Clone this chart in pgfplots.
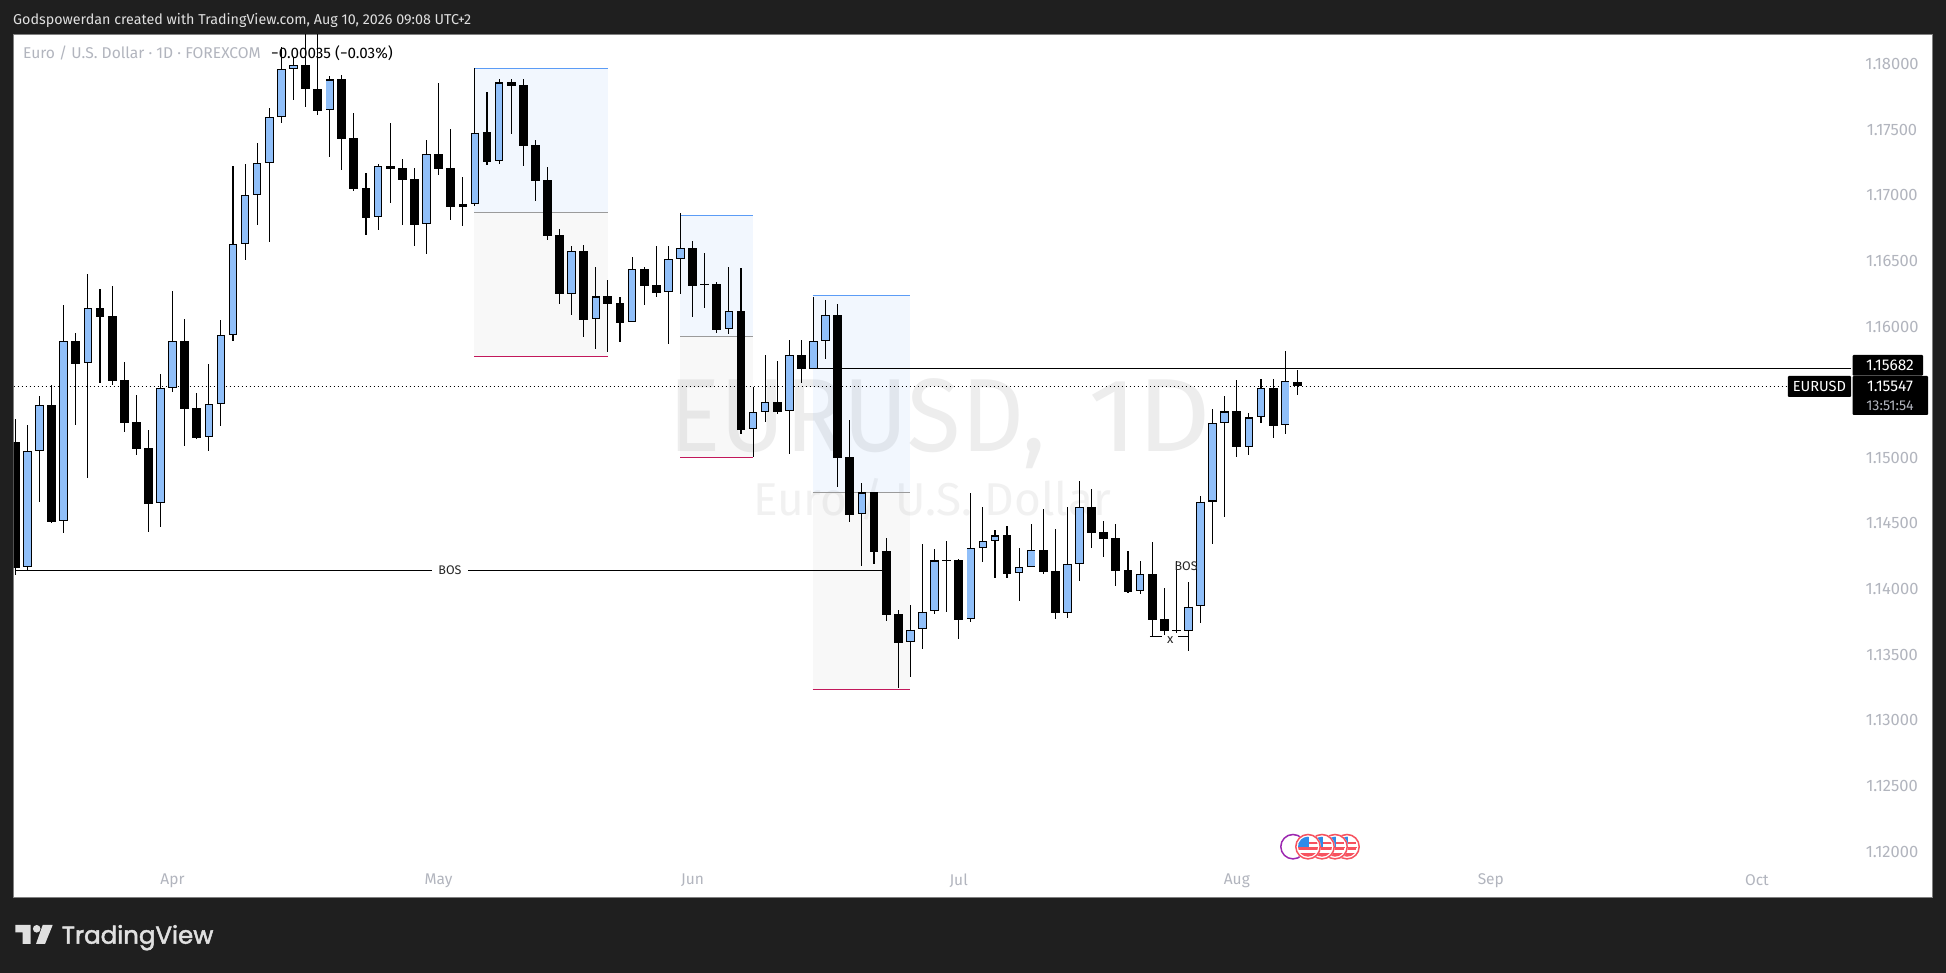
\documentclass[border=0pt]{standalone}
\usepackage{fontspec}
\setmainfont{Fira Sans}
\newfontfamily\logofont[FakeBold=2]{Poppins}
\usepackage{pgfplots}
\usepackage{pgfplotstable}
\pgfplotsset{compat=1.18}

\definecolor{frame}{HTML}{1F1F1F}
\definecolor{upfill}{HTML}{90BFF9}
\definecolor{axistext}{HTML}{B2B5BE}
\definecolor{zoneblue}{HTML}{5B9CF6}
\definecolor{zonegray}{HTML}{9B9B9B}
\definecolor{zonepink}{HTML}{C2185B}
\definecolor{wmark}{HTML}{EDEDED}
\definecolor{wmarkb}{HTML}{F1F1F1}
\definecolor{flagred}{HTML}{F7525F}
\definecolor{flagblue}{HTML}{2E8BEA}
\definecolor{evpurple}{HTML}{9C27B0}

% x = bar number, weekdays only
\pgfplotstableread{
x o h l c
1 1.14166 1.15250 1.14146 1.15050
2 1.15050 1.15471 1.14666 1.15400
4 1.14517 1.16164 1.14429 1.15888
6 1.15720 1.16401 1.14848 1.16139
12 1.14653 1.15639 1.14475 1.15530
13 1.15530 1.16271 1.15504 1.15888
16 1.15156 1.15715 1.15055 1.15408
17 1.15408 1.16050 1.15245 1.15934
18 1.15934 1.17223 1.15892 1.16627
19 1.16627 1.17238 1.16507 1.17000
20 1.17000 1.17396 1.16774 1.17244
21 1.17244 1.17665 1.16646 1.17594
22 1.17594 1.18129 1.17553 1.17960
23 1.17960 1.18053 1.17728 1.17990
26 1.17647 1.17909 1.17294 1.17883
30 1.16832 1.17238 1.16738 1.17221
34 1.16779 1.17421 1.16555 1.17312
37 1.16913 1.17139 1.16768 1.16931
38 1.16931 1.17967 1.16920 1.17477
40 1.17259 1.17886 1.17238 1.17860
46 1.16250 1.16614 1.16090 1.16573
48 1.16055 1.16451 1.15831 1.16230
51 1.16032 1.16530 1.16032 1.16436
54 1.16261 1.16614 1.15869 1.16513
55 1.16513 1.16863 1.16250 1.16596
59 1.15978 1.16451 1.15946 1.16116
61 1.15217 1.15541 1.15004 1.15347
62 1.15347 1.15783 1.15273 1.15423
64 1.15354 1.15895 1.15032 1.15781
66 1.15674 1.16225 1.15674 1.15888
67 1.15888 1.16203 1.15755 1.16086
70 1.14570 1.14806 1.14178 1.14737
74 1.13595 1.13879 1.13333 1.13691
75 1.13694 1.14342 1.13546 1.13828
76 1.13831 1.14303 1.13813 1.14219
79 1.13770 1.14730 1.13751 1.14311
80 1.14311 1.14623 1.14208 1.14364
81 1.14364 1.14448 1.14087 1.14409
83 1.14121 1.14311 1.13912 1.14166
84 1.14166 1.14494 1.14166 1.14296
87 1.13816 1.14623 1.13782 1.14189
88 1.14189 1.14822 1.14064 1.14627
93 1.13983 1.14211 1.13965 1.14113
97 1.13679 1.14052 1.13530 1.13866
98 1.13869 1.14707 1.13744 1.14666
99 1.14666 1.15372 1.14346 1.15263
100 1.15263 1.15469 1.14552 1.15354
102 1.15084 1.15339 1.15024 1.15308
103 1.15308 1.15598 1.15268 1.15530
105 1.15248 1.15813 1.15184 1.15583
}\upbars

\pgfplotstableread{
x o h l c
0 1.15118 1.15294 1.14108 1.14163
3 1.15400 1.15552 1.14506 1.14514
5 1.15888 1.15949 1.15253 1.15717
7 1.16141 1.16286 1.15572 1.16075
8 1.16080 1.16309 1.15557 1.15587
9 1.15590 1.15728 1.15199 1.15268
10 1.15271 1.15479 1.15024 1.15070
11 1.15073 1.15212 1.14437 1.14650
14 1.15888 1.16055 1.15092 1.15374
15 1.15377 1.15492 1.15146 1.15153
24 1.17990 1.18260 1.17675 1.17808
25 1.17808 1.18260 1.17613 1.17644
27 1.17883 1.17914 1.17195 1.17431
28 1.17434 1.17624 1.17035 1.17048
29 1.17053 1.17167 1.16699 1.16829
31 1.17221 1.17549 1.16943 1.17202
32 1.17205 1.17274 1.16776 1.17118
33 1.17121 1.17205 1.16616 1.16776
35 1.17312 1.17853 1.17156 1.17202
36 1.17205 1.17503 1.16812 1.16913
39 1.17480 1.17787 1.17233 1.17256
41 1.17860 1.17886 1.17469 1.17834
42 1.17837 1.17886 1.17225 1.17377
43 1.17380 1.17421 1.16958 1.17111
44 1.17115 1.17215 1.16661 1.16692
45 1.16695 1.16741 1.16174 1.16250
47 1.16573 1.16619 1.15923 1.16052
49 1.16230 1.16355 1.15806 1.16174
50 1.16177 1.16225 1.15885 1.16029
52 1.16436 1.16451 1.16167 1.16311
53 1.16314 1.16614 1.16227 1.16258
56 1.16596 1.16652 1.16075 1.16311
57 1.16325 1.16560 1.16144 1.16317
58 1.16322 1.16339 1.15954 1.15975
60 1.16116 1.16443 1.15184 1.15214
63 1.15423 1.15738 1.15333 1.15351
65 1.15781 1.15895 1.15572 1.15674
68 1.16086 1.16172 1.14780 1.15001
69 1.15004 1.15286 1.14513 1.14567
71 1.14737 1.14737 1.14193 1.14285
72 1.14288 1.14387 1.13759 1.13805
73 1.13808 1.13841 1.13249 1.13592
77 1.14222 1.14364 1.13828 1.14214
78 1.14219 1.14227 1.13622 1.13767
82 1.14409 1.14478 1.14087 1.14118
85 1.14296 1.14608 1.14118 1.14133
86 1.14136 1.14455 1.13774 1.13816
89 1.14627 1.14760 1.14316 1.14429
90 1.14432 1.14517 1.14247 1.14384
91 1.14387 1.14494 1.14026 1.14141
92 1.14144 1.14288 1.13972 1.13980
94 1.14113 1.14357 1.13638 1.13767
95 1.13770 1.14006 1.13651 1.13684
96 1.13687 1.14211 1.13668 1.13679
101 1.15354 1.15590 1.15009 1.15084
104 1.15530 1.15598 1.15153 1.15245
106 1.15578 1.15667 1.15481 1.15547
}\downbars

% wick through the whole range
\pgfplotsset{
  wicks/.style={draw=none, mark=none, forget plot,
    error bars/.cd, y dir=both, y explicit, error mark=none,
    error bar style={line width=1.1pt, black}},
  body/.style={draw=none, mark=none, forget plot,
    error bars/.cd, y dir=minus, y explicit, error mark=none,
    error bar style={line width=#1, black}},
  inner/.style={draw=none, mark=none, forget plot,
    error bars/.cd, y dir=minus, y explicit, error mark=none,
    error bar style={line width=6.6pt, upfill}},
  zonetop/.style={fill=zoneblue, fill opacity=0.08, draw=none, forget plot},
  zonelow/.style={fill=gray, fill opacity=0.05, draw=none, forget plot},
}

% event badge with a small flag
\newcommand{\flagbadge}[1]{%
  \fill[white] (#1,126.3) circle (13pt);
  \begin{scope}
    \clip (#1,126.3) circle (10pt);
    \fill[white] (#1-10,116) rectangle (#1+10,137);
    \fill[flagred] (#1-10,128.6) rectangle (#1+10,131.4);
    \fill[flagred] (#1-10,123) rectangle (#1+10,125.8);
    \fill[flagred] (#1-10,116) rectangle (#1+10,120);
    \fill[flagblue] (#1-10,126) rectangle (#1+1,137);
  \end{scope}
  \draw[flagred, line width=1.5pt] (#1,126.3) circle (12.2pt);
}

\begin{document}
\begin{tikzpicture}[x=1pt,y=1pt]
  \fill[frame] (0,0) rectangle (1946,973);
  \path[use as bounding box] (0,0) rectangle (1946,973);
  \fill[white] (13.5,75.7) rectangle (1932,938.7);
  \draw[gray, line width=1pt] (13.5,75.7) rectangle (1932,938.7);

  % header and footer
  \node[anchor=base west, inner sep=0pt, text=white!88!black] at (13,948)
    {\fontsize{14.3}{16}\selectfont Godspowerdan created with TradingView.com, Aug 10, 2026 09:08 UTC+2};
  \fill[white!88!black] (15.3,48) -- (30.6,48) -- (30.6,29) -- (22.6,29) -- (22.6,40.5) -- (15.3,40.5) -- cycle;
  \fill[white!88!black] (36.7,44.2) circle (3.8pt);
  \fill[white!88!black] (42.7,48) -- (52.7,48) -- (45,29) -- (36,29) -- cycle;
  \node[anchor=base west, inner sep=0pt, text=white!88!black] at (61.5,29.3)
    {\logofont\fontsize{24.5}{26}\selectfont TradingView};

  % watermark
  \node[anchor=base west, inner sep=0pt, text=wmark, xscale=0.94, transform shape] at (668,521)
    {\fontsize{104}{110}\selectfont EURUSD,};
  \node[anchor=base west, inner sep=0pt, text=wmark, xscale=1.1, transform shape] at (1088,521)
    {\fontsize{104}{110}\selectfont 1D};
  \node[anchor=base, inner sep=0pt, text=wmarkb] at (932,457.5)
    {\fontsize{46}{50}\selectfont Euro / U.S. Dollar};

  \begin{axis}[
      at={(13.5pt,75.7pt)}, anchor=south west,
      scale only axis, width=1918.5pt, height=863pt,
      xmin=-0.149, xmax=158.48,
      ymin=1.116524, ymax=1.182262,
      axis line style={draw=none},
      major tick length=0pt,
      xtick={13,35,56,78,101,122,144},
      xticklabels={Apr,May,Jun,Jul,Aug,Sep,Oct},
      ytick={1.12,1.125,1.13,1.135,1.14,1.145,1.15,1.16,1.165,1.17,1.175,1.18},
      yticklabel pos=right,
      /pgf/number format/assume math mode=true,
      yticklabel style={/pgf/number format/fixed, /pgf/number format/fixed zerofill,
        /pgf/number format/precision=5, anchor=center, xshift=-40pt,
        text=axistext, font=\fontsize{16.5}{18}\selectfont},
      xticklabel style={anchor=center, yshift=16.8pt,
        text=axistext, font=\fontsize{15.5}{18}\selectfont},
      clip=true,
    ]
    % zones
    \addplot[zonetop] coordinates {(37.93,1.17967)(48.98,1.17967)(48.98,1.16871)(37.93,1.16871)} --cycle;
    \addplot[zonelow] coordinates {(37.93,1.16871)(48.98,1.16871)(48.98,1.15773)(37.93,1.15773)} --cycle;
    \addplot[zonetop] coordinates {(54.96,1.16848)(60.97,1.16848)(60.97,1.15926)(54.96,1.15926)} --cycle;
    \addplot[zonelow] coordinates {(54.96,1.15926)(60.97,1.15926)(60.97,1.15004)(54.96,1.15004)} --cycle;
    \addplot[zonetop] coordinates {(65.93,1.16238)(74.00,1.16238)(74.00,1.14737)(65.93,1.14737)} --cycle;
    \addplot[zonelow] coordinates {(65.93,1.14737)(74.00,1.14737)(74.00,1.13237)(65.93,1.13237)} --cycle;
    \addplot[zoneblue, line width=1pt, forget plot] coordinates {(37.93,1.17967)(48.98,1.17967)};
    \addplot[zonegray, line width=1pt, forget plot] coordinates {(37.93,1.16871)(48.98,1.16871)};
    \addplot[zonepink, line width=1pt, forget plot] coordinates {(37.93,1.15773)(48.98,1.15773)};
    \addplot[zoneblue, line width=1pt, forget plot] coordinates {(54.96,1.16848)(60.97,1.16848)};
    \addplot[zonegray, line width=1pt, forget plot] coordinates {(54.96,1.15926)(60.97,1.15926)};
    \addplot[zonepink, line width=1pt, forget plot] coordinates {(54.96,1.15004)(60.97,1.15004)};
    \addplot[zoneblue, line width=1pt, forget plot] coordinates {(65.93,1.16238)(74.00,1.16238)};
    \addplot[zonegray, line width=1pt, forget plot] coordinates {(65.93,1.14737)(74.00,1.14737)};
    \addplot[zonepink, line width=1pt, forget plot] coordinates {(65.93,1.13237)(74.00,1.13237)};

    % price lines
    \addplot[black, line width=1pt, dash pattern=on 1.2pt off 2.8pt, forget plot]
      coordinates {(-0.149,1.15547)(146.5,1.15547)};
    \addplot[black, line width=1pt, forget plot] coordinates {(66,1.15682)(151.8,1.15682)};
    \addplot[black, line width=1pt, forget plot] coordinates {(0,1.14144)(34.45,1.14144)};
    \addplot[black, line width=1pt, forget plot] coordinates {(37.43,1.14144)(71.67,1.14144)};
    \addplot[black, line width=1pt, forget plot] coordinates {(93.8,1.13641)(94.84,1.13641)};
    \addplot[black, line width=1pt, forget plot] coordinates {(96.16,1.13641)(97,1.13641)};

    % wicks
    \addplot[wicks] table[x=x, y=c,
      y error plus expr=\thisrow{h}-\thisrow{c},
      y error minus expr=\thisrow{c}-\thisrow{l}] {\upbars};
    \addplot[wicks] table[x=x, y=c,
      y error plus expr=\thisrow{h}-\thisrow{c},
      y error minus expr=\thisrow{c}-\thisrow{l}] {\downbars};
    % bodies
    \addplot[body=8.5pt] table[x=x, y=c,
      y error minus expr=\thisrow{c}-\thisrow{o}] {\upbars};
    \addplot[inner] table[x=x, y expr=\thisrow{c}-0.00009,
      y error minus expr={max(\thisrow{c}-\thisrow{o}-0.00018,0)}] {\upbars};
    \addplot[body=8.9pt] table[x=x, y=o,
      y error minus expr=\thisrow{o}-\thisrow{c}] {\downbars};

    % drawn labels
    \node[text=black!85, font=\fontsize{12.5}{14}\selectfont] at (axis cs:35.94,1.14144) {BOS};
    \node[text=black!85, font=\fontsize{12.5}{14}\selectfont] at (axis cs:96.8,1.14178) {BOS};
    \node[text=black!85, font=\fontsize{13}{14}\selectfont] at (axis cs:95.5,1.13614) {x};
  \end{axis}

  % chart title line
  \node[anchor=base west, inner sep=0pt, text=axistext] at (23,914)
    {\fontsize{15.6}{17}\selectfont Euro / U.S. Dollar · 1D · FOREXCOM};
  \node[anchor=base west, inner sep=0pt, text=black] at (271,914)
    {\fontsize{15.2}{17}\selectfont −0.00035 (−0.03\%)};

  % price tags on the scale
  \fill[black, rounded corners=1pt] (1852.6,597.3) rectangle (1923,618);
  \fill[black, rounded corners=1pt] (1852.6,558) rectangle (1928,597);
  \fill[black, rounded corners=1pt] (1787.8,576) rectangle (1851,597);
  \node[anchor=center, text=white, inner sep=0pt] at (1890,607.5)
    {\fontsize{15.5}{17}\selectfont 1.15682};
  \node[anchor=center, text=white, inner sep=0pt] at (1890,586.5)
    {\fontsize{15.5}{17}\selectfont 1.15547};
  \node[anchor=center, text=axistext, inner sep=0pt] at (1890,567)
    {\fontsize{14.2}{16}\selectfont 13:51:54};
  \node[anchor=center, text=white, inner sep=0pt] at (1819.4,586.5)
    {\fontsize{14.6}{16}\selectfont EURUSD};

  % event badges
  \fill[white] (1293,126.3) circle (13pt);
  \draw[evpurple, line width=1.5pt] (1293,126.3) circle (12.2pt);
  \flagbadge{1347}
  \flagbadge{1335}
  \flagbadge{1322}
  \flagbadge{1308}
\end{tikzpicture}
\end{document}
